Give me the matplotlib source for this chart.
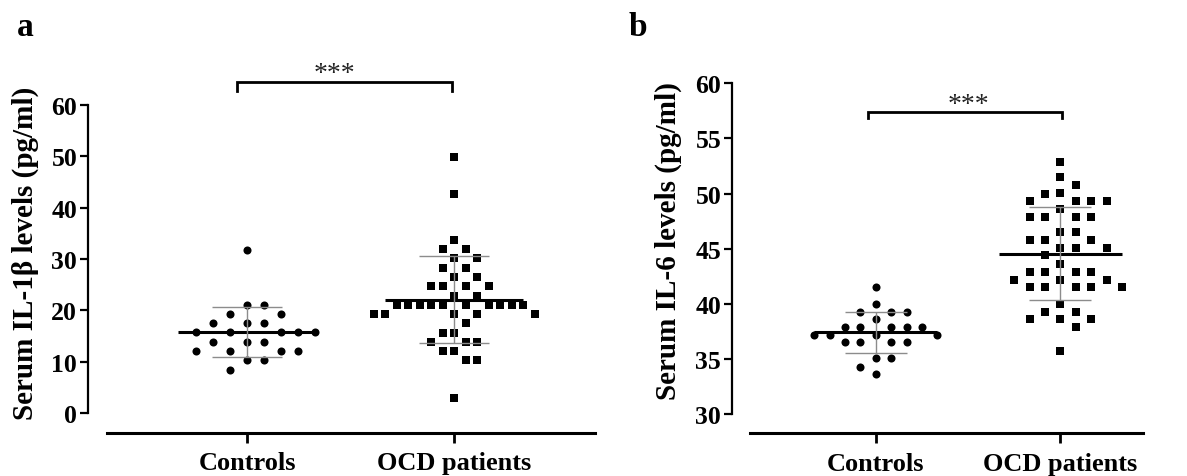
import numpy as np
import matplotlib.pyplot as plt

plt.rcParams['font.family'] = ['Liberation Serif', 'DejaVu Serif']
plt.rcParams['font.weight'] = 'bold'

W, H = 1187, 477

groups = ['Controls', 'OCD patients']

# Serum IL-1beta (pg/ml)
il1b_controls = [31.8, 21.1, 21.1, 19.3, 19.3, 17.5, 17.5, 17.5,
                 15.8, 15.8, 15.8, 15.8, 15.8, 13.9, 13.9, 13.9,
                 12.1, 12.1, 12.1, 12.1, 10.3, 10.3, 8.5]
il1b_ocd = [49.9, 42.6, 33.7, 31.9, 31.9, 30.1, 30.1, 28.3, 28.3,
            26.5, 26.5, 24.7, 24.7, 24.7, 24.7, 22.9, 22.9,
            21.1, 21.1, 21.1, 21.1, 21.1, 21.1, 21.1, 21.1, 21.1, 21.1,
            19.3, 19.3, 19.3, 19.3, 19.3, 17.5, 15.7, 15.7,
            13.9, 13.9, 13.9, 12.1, 12.1, 10.3, 10.3, 3.0]

# Serum IL-6 (pg/ml)
il6_controls = [41.5, 40.0, 39.3, 39.3, 39.3, 38.6,
                37.9, 37.9, 37.9, 37.9, 37.9, 37.2, 37.2, 37.2, 37.2,
                36.5, 36.5, 36.5, 36.5, 35.1, 35.1, 34.3, 33.6]
il6_ocd = [52.9, 51.5, 50.8, 50.05, 49.95, 49.3, 49.3, 49.3, 49.3, 48.6,
           47.9, 47.9, 47.9, 47.9, 46.5, 46.5, 45.8, 45.8, 45.8,
           45.1, 45.1, 45.1, 44.4, 43.6, 42.9, 42.9, 42.9, 42.9,
           42.2, 42.2, 42.2, 41.5, 41.5, 41.5, 41.5, 41.5,
           40.0, 39.3, 39.3, 38.6, 38.6, 38.6, 37.9, 35.75]

fig = plt.figure(figsize=(W / 100, H / 100), dpi=100)


def px_axes(x0, x1, y0, y1):
    return fig.add_axes([x0 / W, 1 - y1 / H, (x1 - x0) / W, (y1 - y0) / H])


def swarm_offsets(ax, vals, sx, sy):
    # simple beeswarm: each point goes to the free slot closest to the centre
    vals = np.asarray(vals, float)
    ypx = ax.transData.transform(np.column_stack([np.zeros_like(vals), vals]))[:, 1]
    xunit = ax.transData.transform([[1, 0]])[0, 0] - ax.transData.transform([[0, 0]])[0, 0]
    placed = []
    offs = np.zeros_like(vals)
    for i in np.argsort(-vals, kind='stable'):
        y = ypx[i]
        near = [px for px, py in placed if abs(py - y) < sy]
        cands = [0.0] + [px + sx for px in near] + [px - sx for px in near]
        cands = sorted(set(cands), key=lambda c: (round(abs(c), 6), -c))
        for c in cands:
            if all(abs(c - px) >= sx - 1e-6 for px in near):
                break
        placed.append((c, y))
        offs[i] = c / xunit
    return offs


def draw_panel(ax, series, spacings, row_gap, lims, yticks, xbounds):
    ax.set_xlim(*lims[0])
    ax.set_ylim(*lims[1])
    for xc, (vals, marker, ms) in enumerate(series):
        offs = swarm_offsets(ax, vals, spacings[xc], row_gap[xc])
        ax.scatter(xc + offs, vals, marker=marker, s=ms ** 2, color='black',
                   linewidths=0, zorder=2)
        mean, sd = np.mean(vals), np.std(vals, ddof=1)
        ax.hlines(mean, xc - 0.333, xc + 0.333, color='black', lw=2.2, zorder=3)
        ax.vlines(xc, mean - sd, mean + sd, color='#8c8c8c', lw=1, zorder=3)
        ax.hlines([mean - sd, mean + sd], xc - 0.167, xc + 0.167,
                  color='#8c8c8c', lw=1, zorder=3)
    for s in ['top', 'right']:
        ax.spines[s].set_visible(False)
    ax.spines['left'].set_bounds(yticks[0], yticks[-1])
    ax.spines['left'].set_linewidth(1.6)
    ax.spines['bottom'].set_bounds(*xbounds)
    ax.spines['bottom'].set_linewidth(2.2)
    ax.set_yticks(yticks)
    ax.set_xticks([0, 1])
    ax.set_xticklabels(groups)
    ax.tick_params(axis='y', length=6, width=1.6, pad=2, labelsize=18.5)
    ax.tick_params(axis='x', length=7, width=2, pad=6.5, labelsize=19)
    ax.patch.set_visible(False)


def bracket(ax, x0, x1, y_top, y_end, x_star, y_star):
    ax.plot([x0, x0, x1, x1], [y_end, y_top, y_top, y_end], color='black',
            lw=2, clip_on=False, solid_joinstyle='miter')
    ax.text(x_star, y_star, '***', ha='center', va='center', color='#222222',
            fontsize=20, fontweight='normal', clip_on=False)


# panel a
ax1 = px_axes(88.3, 595, 105.7, 433.7)
draw_panel(ax1,
           [(il1b_controls, 'o', 5.8), (il1b_ocd, 's', 6.0)],
           spacings=[17, 11.5], row_gap=[12, 12],
           lims=((-0.767, 1.681), (-3.77, 60)),
           yticks=list(range(0, 61, 10)),
           xbounds=(-0.676, 1.681))
bracket(ax1, -0.048, 0.99, 64.36, 62.7, 0.42, 66.0)

# panel b
ax2 = px_axes(732.3, 1143, 84.3, 434)
draw_panel(ax2,
           [(il6_controls, 'o', 5.8), (il6_ocd, 's', 6.0)],
           spacings=[15.4, 15.4], row_gap=[12, 12],
           lims=((-0.777, 1.448), (28.28, 60)),
           yticks=list(range(30, 61, 5)),
           xbounds=(-0.681, 1.448))
bracket(ax2, -0.043, 1.008, 57.38, 56.86, 0.5, 58.05)

fig.text(25 / W, 1 - 253 / H, 'Serum IL-1\u03b2 levels (pg/ml)', rotation=90,
         ha='center', va='center', fontsize=21)
fig.text(668 / W, 1 - 241 / H, 'Serum IL-6 levels (pg/ml)', rotation=90,
         ha='center', va='center', fontsize=21)
fig.text(25 / W, 1 - 28 / H, 'a', ha='center', va='center', fontsize=24)
fig.text(638 / W, 1 - 28 / H, 'b', ha='center', va='center', fontsize=24)

fig.savefig('out.png', dpi=100)
